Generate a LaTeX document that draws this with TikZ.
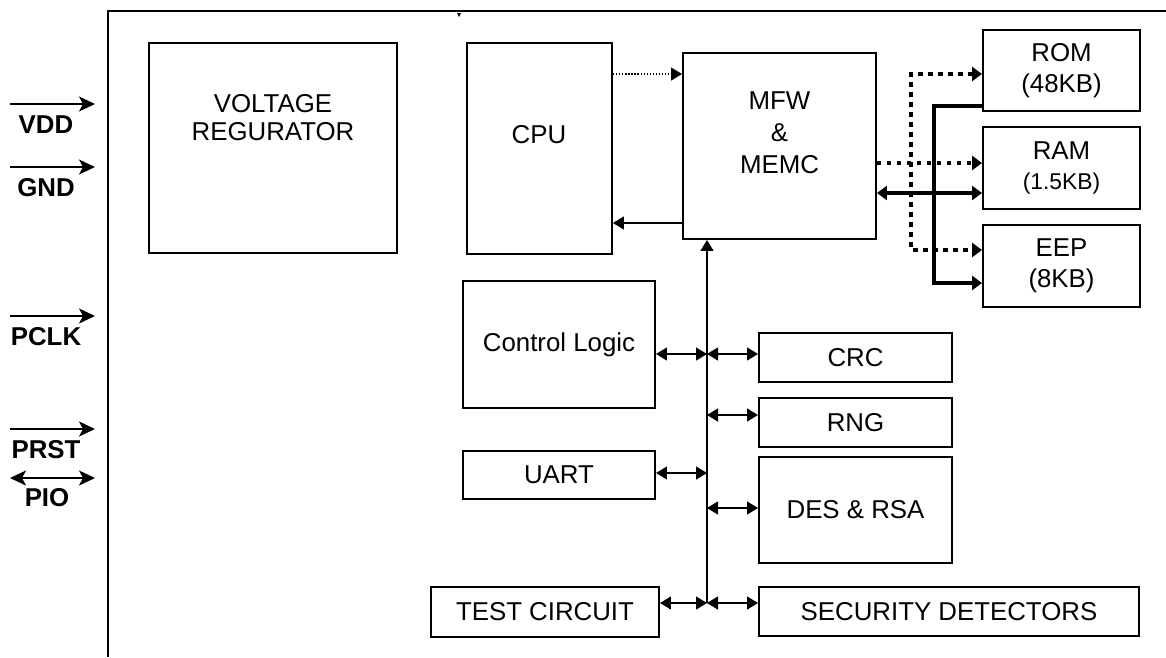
\documentclass[tikz,border=0pt]{standalone}
\usepackage{fontspec}
\setmainfont{Liberation Sans}
\usetikzlibrary{arrows.meta}

\begin{document}
\begin{tikzpicture}[x=0.02cm, y=-0.02cm,
        blk/.style={draw, line width=0.04cm, rectangle, inner sep=0pt, align=center,
            font=\fontsize{14.7}{17.6}\selectfont},
        txt/.style={inner sep=0pt, align=center, font=\fontsize{14.7}{16}\selectfont},
        ln/.style={line width=0.026cm, >={Triangle[length=0.22cm,width=0.26cm]}},
        fat/.style={line width=0.08cm, >={Triangle[length=0.2cm,width=0.28cm]}},
        dotbus/.style={fat, dash pattern=on 0.09cm off 0.11cm},
        pin/.style={line width=0.03cm, >={Stealth[length=0.32cm,width=0.3cm,inset=0.08cm]}},
        pinlbl/.style={inner sep=0pt, font=\fontsize{14.7}{17.6}\selectfont\bfseries}]
    \useasboundingbox (0,0) rectangle (1166,657);
    \draw[line width=0.03cm] (108,657) -- (108,11) -- (1166,11);
    \fill (457,13) -- (461,13) -- (459,17) -- cycle;

    \foreach \n/\y in {VDD/104, GND/167, PCLK/316, PRST/429}{
        \coordinate (\n a) at (10,\y);
        \coordinate (\n b) at (95,\y);
        \draw[pin,->] (\n a) -- (\n b);
        \node[pinlbl] (\n) at (46,{\y+21}) {\n};
    }
    \coordinate (PIOa) at (10,478);
    \coordinate (PIOb) at (95,478);
    \draw[pin,<->] (PIOa) -- (PIOb);
    \node[pinlbl] (PIO) at (47,498) {PIO};

    \node[blk, minimum width=4.96cm, minimum height=4.2cm] (vreg) at (273,148) {};
    \node[txt] (vregt) at (273,118) {VOLTAGE\\REGURATOR};
    \node[blk, minimum width=2.9cm, minimum height=4.22cm] (cpu) at (539.5,148.5) {};
    \node[txt] (cput) at (539,135) {CPU};
    \node[blk, minimum width=3.86cm, minimum height=3.72cm] (mfw) at (779.5,146) {};
    \node[txt] (mfwt) at (779.5,133) {MFW\\[0.08cm]\&\\[0.08cm]MEMC};

    \node[blk, minimum width=3.14cm, minimum height=1.62cm] (rom) at (1061.5,70.5) {ROM\\(48KB)};
    \node[blk, minimum width=3.14cm, minimum height=1.64cm] (ram) at (1061.5,168) {RAM\\{\fontsize{13}{15}\selectfont(1.5KB)}};
    \node[blk, minimum width=3.14cm, minimum height=1.64cm] (eep) at (1061.5,266) {EEP\\(8KB)};

    \node[blk, minimum width=3.84cm, minimum height=2.54cm] (ctrl) at (559,344.5) {Control Logic};
    \node[blk, minimum width=3.84cm, minimum height=0.96cm] (uart) at (559,475) {UART};
    \node[blk, minimum width=4.56cm, minimum height=1cm] (test) at (545,612) {TEST CIRCUIT};
    \node[blk, minimum width=3.86cm, minimum height=0.98cm] (crc) at (855.5,357.5) {CRC};
    \node[blk, minimum width=3.86cm, minimum height=0.98cm] (rng) at (855.5,422.5) {RNG};
    \node[blk, minimum width=3.86cm, minimum height=2.12cm] (des) at (855.5,510) {DES \& RSA};
    \node[blk, minimum width=7.6cm, minimum height=0.98cm] (sec) at (949,611.5) {SECURITY DETECTORS};

    \coordinate (m1) at ([yshift=-0.44cm]mfw.north west);
    \coordinate (m2) at ([yshift=0.34cm]mfw.south west);
    \draw[ln, densely dotted, ->] (cpu.east |- m1) -- (m1);
    \draw[ln, ->] (m2) -- (cpu.east |- m2);

    \coordinate (bus) at (707,603);
    \coordinate (b1) at (707,354);
    \coordinate (b2) at (707,415);
    \coordinate (b3) at (707,473);
    \coordinate (b4) at (707,508);
    \draw[ln, ->] (bus) -- (bus |- mfw.south);
    \draw[ln, <->] (ctrl.east |- b1) -- (b1);
    \draw[ln, <->] (b1) -- (crc.west |- b1);
    \draw[ln, <->] (b2) -- (rng.west |- b2);
    \draw[ln, <->] (uart.east |- b3) -- (b3);
    \draw[ln, <->] (b4) -- (des.west |- b4);
    \draw[ln, <->] (test.east |- bus) -- (bus);
    \draw[ln, <->] (bus) -- (sec.west |- bus);

    \coordinate (a1) at (911,74);
    \coordinate (a2) at (911,250);
    \coordinate (c1) at (934,106);
    \coordinate (c2) at (934,283);
    \coordinate (r1) at ([yshift=0.1cm]ram.west);
    \coordinate (r2) at ([yshift=-0.5cm]ram.west);
    \draw[dotbus, <->] (rom.west |- a1) -- (a1) -- (a2) -- (eep.west |- a2);
    \draw[dotbus, ->] (mfw.east |- r1) -- (r1);
    \draw[fat, ->] (rom.west |- c1) -- (c1) -- (c2) -- (eep.west |- c2);
    \draw[fat, <->] (mfw.east |- r2) -- (r2);
\end{tikzpicture}
\end{document}
